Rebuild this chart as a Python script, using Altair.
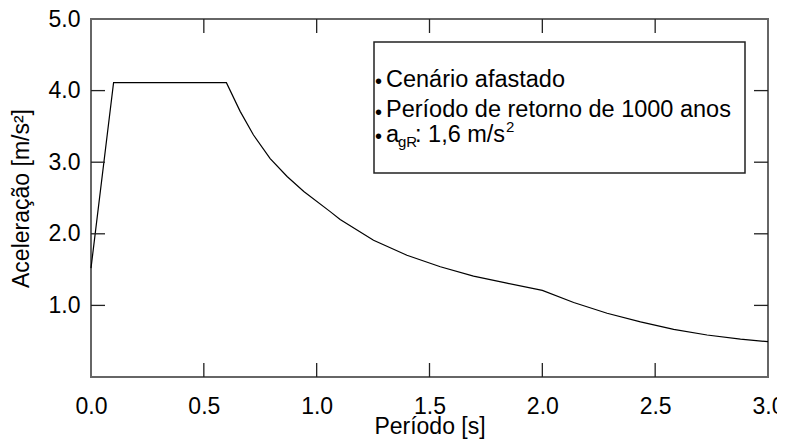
import altair as alt
import pandas as pd

# Spectrum
period = [0.0, 0.1, 0.6, 0.661, 0.72, 0.794, 0.869, 0.943, 1.06, 1.104, 1.252,
          1.40, 1.548, 1.695, 1.843, 2.0, 2.139, 2.287, 2.435, 2.582, 2.73,
          2.878, 3.0]
accel = [1.52, 4.11, 4.11, 3.71, 3.38, 3.05, 2.80, 2.59, 2.31, 2.20, 1.91,
         1.70, 1.54, 1.41, 1.31, 1.21, 1.04, 0.89, 0.77, 0.666, 0.587,
         0.53, 0.493]

x_ticks = [0.0, 0.5, 1.0, 1.5, 2.0, 2.5, 3.0]
x_inner_ticks = [0.5, 1.0, 1.5, 2.0, 2.5]
y_ticks = [1.0, 2.0, 3.0, 4.0, 5.0]
y_inner_ticks = [1.0, 2.0, 3.0, 4.0]

x_title = "Período [s]"
y_title = "Aceleração [m/s²]"
legend_line1 = "Cenário afastado"
legend_line2 = "Período de retorno de 1000 anos"
legend_a = "a"
legend_sub = "gR"
legend_rest = ": 1,6 m/s"
legend_sup = "2"

W, H = 677, 358
FONT = "Liberation Sans, Arial, Helvetica, sans-serif"
FS = 23

xs = alt.Scale(domain=[0, 3], nice=False, zero=False)
ys = alt.Scale(domain=[0, 5], nice=False, zero=False)

df = pd.DataFrame({"T": period, "A": accel})

curve = alt.Chart(df).mark_line(color="black", strokeWidth=1.2).encode(
    x=alt.X("T:Q", scale=xs, title=x_title,
            axis=alt.Axis(values=x_ticks, format=".1f", labelFlush=False,
                          labelOverlap=False, labelPadding=18,
                          titleBaseline="alphabetic", titleY=56)),
    y=alt.Y("A:Q", scale=ys, title=y_title,
            axis=alt.Axis(values=y_ticks, format=".1f", labelPadding=11,
                          titleBaseline="alphabetic", titleX=-63, titleY=H / 2,
                          titleAlign="center")),
)

xt = pd.DataFrame({"T": x_inner_ticks})
yt = pd.DataFrame({"A": y_inner_ticks})
tick_style = dict(color="#222", strokeWidth=1.3)

xb = alt.Chart(xt).mark_rule(**tick_style).encode(
    x=alt.X("T:Q", scale=xs, title=x_title), y=alt.value(H), y2=alt.value(H - 14))
xtop = alt.Chart(xt).mark_rule(**tick_style).encode(
    x=alt.X("T:Q", scale=xs, title=x_title), y=alt.value(0), y2=alt.value(14))
yl = alt.Chart(yt).mark_rule(**tick_style).encode(
    y=alt.Y("A:Q", scale=ys, title=y_title), x=alt.value(0), x2=alt.value(14))
yr = alt.Chart(yt).mark_rule(**tick_style).encode(
    y=alt.Y("A:Q", scale=ys, title=y_title), x=alt.value(W - 14), x2=alt.value(W))

one = pd.DataFrame({"k": [0]})
box = alt.Chart(one).mark_rect(fill="white", stroke="#222", strokeWidth=1.5).encode(
    x=alt.value(283), x2=alt.value(654), y=alt.value(23), y2=alt.value(154))


def txt(s, x, y, size=23.5):
    return alt.Chart(one).mark_text(
        text=s, align="left", baseline="alphabetic", font=FONT,
        fontSize=size, color="black").encode(x=alt.value(x), y=alt.value(y))


layers = [
    curve, xb, xtop, yl, yr, box,
    txt("•", 284, 69, 20), txt(legend_line1, 295, 67.7),
    txt("•", 284, 99.6, 20), txt(legend_line2, 295, 98.3),
    txt("•", 284, 124, 20), txt(legend_a, 295, 122.7),
    txt(legend_sub, 307, 127.7, 15), txt(legend_rest, 324, 122.7),
    txt(legend_sup, 415, 112.5, 15),
]

chart = alt.layer(*layers).properties(
    width=W, height=H,
    autosize=alt.AutoSizeParams(type="none"),
    padding={"left": 83, "top": 11, "right": 9, "bottom": 62},
).configure_view(stroke="#666", strokeWidth=2).configure_axis(
    domain=False, ticks=False, grid=False,
    labelFont=FONT, labelFontSize=FS, labelColor="black",
    titleFont=FONT, titleFontSize=FS, titleFontWeight="normal", titleColor="black",
)

chart.save("out.html", embed_options={"renderer": "svg", "actions": False})
